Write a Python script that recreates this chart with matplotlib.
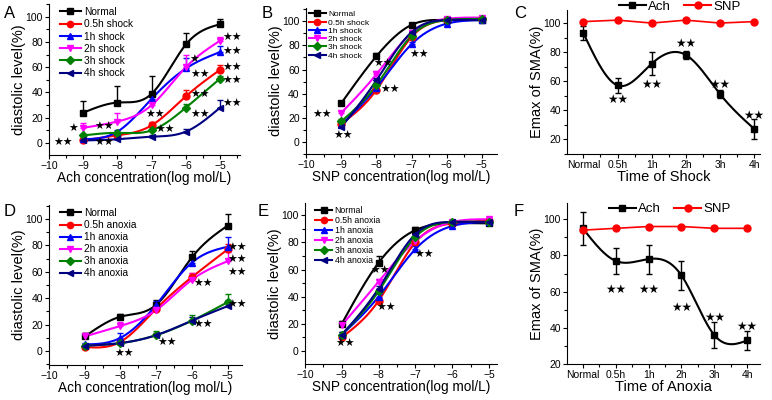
import numpy as np
import matplotlib
matplotlib.use("Agg")
import matplotlib.pyplot as plt
from matplotlib.ticker import MultipleLocator

plt.rcParams['font.family'] = ['Liberation Sans', 'DejaVu Sans']

# ---------------- data ----------------
conc = [-9, -8, -7, -6, -5]
shock_groups = ["Normal", "0.5h shock", "1h shock", "2h shock", "3h shock", "4h shock"]
anoxia_groups = ["Normal", "0.5h anoxia", "1h anoxia", "2h anoxia", "3h anoxia", "4h anoxia"]

A_vals = [[24, 32, 39, 78, 94],
          [2, 6, 14, 37, 58],
          [3, 9, 35, 59, 72],
          [12, 17, 30, 60, 81],
          [6, 8, 10, 28, 51],
          [2, 3, 5, 9, 28]]
A_err = [[9, 13, 14, 9, 4],
         [1, 1, 3, 5, 4],
         [1, 1, 2, 8, 5],
         [4, 7, 3, 10, 3],
         [1, 1, 1, 3, 2],
         [1, 1, 1, 2, 6]]

B_vals = [[32, 71, 97, 101, 101],
          [15, 43, 87, 101, 102],
          [14, 45, 81, 98, 101],
          [24, 56, 90, 102, 103],
          [17, 47, 88, 101, 102],
          [12, 51, 91, 101, 101]]
B_err = [[2, 3, 1, 1, 1],
         [2, 2, 2, 1, 1],
         [2, 2, 2, 1, 1],
         [2, 3, 2, 1, 1],
         [2, 2, 2, 1, 1],
         [2, 2, 2, 1, 1]]

D_vals = [[11, 26, 35, 71, 95],
          [3, 7, 32, 56, 77],
          [5, 10, 35, 67, 79],
          [11, 19, 31, 54, 68],
          [4, 6, 12, 23, 37],
          [4, 6, 12, 23, 34]]
D_err = [[3, 2, 4, 5, 9],
         [1, 1, 3, 3, 4],
         [1, 4, 3, 3, 7],
         [3, 3, 4, 5, 7],
         [1, 1, 3, 4, 6],
         [1, 1, 2, 3, 5]]

E_vals = [[20, 65, 89, 94, 94],
          [10, 37, 80, 94, 96],
          [12, 40, 75, 92, 95],
          [19, 51, 81, 95, 97],
          [12, 44, 84, 95, 95],
          [12, 46, 86, 95, 95]]
E_err = [[2, 5, 2, 1, 1],
         [2, 2, 2, 1, 1],
         [2, 2, 2, 1, 1],
         [2, 2, 2, 1, 1],
         [2, 2, 2, 1, 1],
         [2, 2, 2, 1, 1]]

times = ["Normal", "0.5h", "1h", "2h", "3h", "4h"]
C_ach = [93, 57, 72, 78, 51, 27]
C_ach_err = [5, 5, 8, 3, 3, 7]
C_snp = [101, 102, 100, 102, 100, 101]
F_ach = [95, 77, 78, 69, 36, 33]
F_ach_err = [9, 7, 8, 8, 7, 5]
F_snp = [94, 95, 96, 96, 95, 95]

# star annotations (x, y, text)
A_stars = [(-9.6, 0, "★★"), (-9.3, 11, "★"), (-8.4, 13, "★★"), (-8.4, 0, "★★"),
           (-6.9, 22, "★★"), (-6.6, 10, "★★"), (-5.75, 66, "★"), (-5.6, 54, "★★"),
           (-5.6, 38, "★★"), (-5.6, 22, "★★"), (-4.65, 83, "★★"), (-4.65, 72, "★★"),
           (-4.65, 59.5, "★★"), (-4.65, 49, "★★"), (-4.65, 31, "★★")]
B_stars = [(-9.55, 22, "★★"), (-8.95, 5, "★★"), (-7.8, 65, "★★"), (-7.6, 43, "★★"),
           (-6.8, 72, "★★")]
D_stars = [(-7.9, -2, "★★"), (-6.7, 6, "★★"), (-5.7, 51, "★★"), (-5.7, 20, "★★"),
           (-4.75, 78, "★★"), (-4.75, 69, "★★"), (-4.75, 59, "★★"), (-4.75, 35, "★★")]
E_stars = [(-8.9, 5, "★★"), (-7.95, 59, "★★"), (-7.8, 32, "★★"), (-6.75, 71, "★★")]
C_stars = [(1, 47, "★★"), (2, 58, "★★"), (3, 86, "★★"), (4, 58, "★★"), (5, 36, "★★")]
F_stars = [(1, 61, "★★"), (2, 61, "★★"), (3, 51, "★★"), (4, 46, "★★"), (5, 41, "★★")]

colors = ["black", "#ff0000", "#0000ff", "#ff00ff", "#008000", "#000080"]
markers = ["s", "o", "^", "v", "D", "<"]
msizes = [5, 5, 5, 5, 4.5, 5]


def spline(x, y, n=200):
    x = np.asarray(x, float)
    y = np.asarray(y, float)
    m = len(x)
    h = np.diff(x)
    A = np.zeros((m, m))
    r = np.zeros(m)
    A[0, 0] = 1
    A[-1, -1] = 1
    for i in range(1, m - 1):
        A[i, i - 1] = h[i - 1]
        A[i, i] = 2 * (h[i - 1] + h[i])
        A[i, i + 1] = h[i]
        r[i] = 3 * ((y[i + 1] - y[i]) / h[i] - (y[i] - y[i - 1]) / h[i - 1])
    c = np.linalg.solve(A, r)
    xs = np.linspace(x[0], x[-1], n)
    ys = np.empty_like(xs)
    for k, xv in enumerate(xs):
        i = min(np.searchsorted(x, xv, side='right') - 1, m - 2)
        b = (y[i + 1] - y[i]) / h[i] - h[i] * (2 * c[i] + c[i + 1]) / 3
        d = (c[i + 1] - c[i]) / (3 * h[i])
        t = xv - x[i]
        ys[k] = y[i] + b * t + c[i] * t ** 2 + d * t ** 3
    return xs, ys


def style(ax):
    for s in ["top", "right"]:
        ax.spines[s].set_visible(False)
    ax.tick_params(direction='out', labelsize=7.5, length=3, width=0.8, pad=1.5)
    ax.tick_params(which='minor', direction='out', length=2, width=0.8)


fig = plt.figure(figsize=(7.72, 4.0), dpi=100)
W, H = 772, 400


def make_ax(l, r, b, t):
    return fig.add_axes([l / W, 1 - b / H, (r - l) / W, (b - t) / H])


STAR_FS = 7.8


def conc_panel(ax, vals, errs, labels, stars, ylim, xr, xlabel):
    for i in range(6):
        xs, ys = spline(conc, vals[i])
        ax.plot(xs, ys, color=colors[i], lw=1.5, zorder=2)
        ax.errorbar(conc, vals[i], yerr=[[0] * 5, errs[i]], fmt='none', ecolor=colors[i],
                    elinewidth=1, capsize=2, zorder=2)
        ax.plot(conc, vals[i], linestyle='none', marker=markers[i], color=colors[i],
                ms=msizes[i], zorder=3)
    for (x, y, s) in stars:
        ax.text(x, y, s, fontsize=STAR_FS, ha='center', va='center', family='DejaVu Sans')
    ax.set_xlim(-10, xr)
    ax.set_ylim(*ylim)
    ax.set_xticks([-10, -9, -8, -7, -6, -5])
    ax.xaxis.set_minor_locator(MultipleLocator(0.5))
    ax.set_yticks([0, 20, 40, 60, 80, 100])
    ax.yaxis.set_minor_locator(MultipleLocator(10))
    ax.set_xlabel(xlabel, fontsize=9.8, labelpad=0)
    ax.set_ylabel("diastolic level(%)", fontsize=10.5, labelpad=-0.5)
    style(ax)


def time_panel(ax, ach, ach_err, snp, stars, ylim, xr, xlabel):
    x = np.arange(len(times))
    xs, ys = spline(x, ach)
    ax.plot(xs, ys, color='black', lw=1.5, zorder=2)
    ax.errorbar(x, ach, yerr=ach_err, fmt='none', ecolor='black', elinewidth=1, capsize=2)
    ax.plot(x, ach, 's', color='black', ms=5, zorder=3)
    ax.plot(x, snp, '-o', color='#ff0000', ms=5, lw=1.2, zorder=3)
    for (xx, y, s) in stars:
        ax.text(xx, y, s, fontsize=STAR_FS + 0.7, ha='center', va='center', family='DejaVu Sans')
    ax.set_xlim(-0.48, xr)
    ax.set_ylim(*ylim)
    ax.set_xticks(x)
    ax.set_xticklabels(times)
    ax.xaxis.set_minor_locator(MultipleLocator(0.5))
    ax.set_yticks([20, 40, 60, 80, 100])
    ax.yaxis.set_minor_locator(MultipleLocator(10))
    ax.set_xlabel(xlabel, fontsize=10.5, labelpad=0)
    ax.set_ylabel("Emax of SMA(%)", fontsize=10.5, labelpad=-0.5)
    style(ax)


def legend6(ax, labels, fs, x0, hl, ls):
    handles = []
    for i in range(6):
        h, = ax.plot([], [], color=colors[i], marker=markers[i], ms=msizes[i] * 0.9, lw=1.5)
        handles.append(h)
    ax.legend(handles, labels, loc='upper left', bbox_to_anchor=(x0, 1.0), frameon=False,
              fontsize=fs, handlelength=hl, handletextpad=0.3, labelspacing=ls,
              borderpad=0.2, borderaxespad=0.1)


def legend2(fig_x, fig_y):
    h1, = plt.plot([], [], '-s', color='black', ms=5, lw=1.5)
    h2, = plt.plot([], [], '-o', color='#ff0000', ms=5, lw=1.5)
    fig.legend([h1, h2], ["Ach", "SNP"], loc='center', bbox_to_anchor=(fig_x / W, 1 - fig_y / H),
               ncol=2, frameon=False, fontsize=9.5, handlelength=2.0, handletextpad=0.2,
               columnspacing=1.0, borderpad=0)


axA = make_ax(49, 240, 155, 4)
conc_panel(axA, A_vals, A_err, shock_groups, A_stars, (-9.5, 110), -4.42, "Ach concentration(log mol/L)")
legend6(axA, shock_groups, 7.3, 0.04, 2.1, 0.22)

axB = make_ax(306, 497, 154, 8)
conc_panel(axB, B_vals, B_err, shock_groups, B_stars, (-10, 111), -4.57, "SNP concentration(log mol/L)")
legend6(axB, shock_groups, 6.0, 0.0, 2.1, 0.05)

axC = make_ax(567, 760, 154, 10)
time_panel(axC, C_ach, C_ach_err, C_snp, C_stars, (9.7, 109), 5.17, "Time of Shock")
legend2(680, 7)

axD = make_ax(49, 242, 365, 205)
conc_panel(axD, D_vals, D_err, anoxia_groups, D_stars, (-10.6, 110.6), -4.6, "Ach concentration(log mol/L)")
legend6(axD, anoxia_groups, 7.3, 0.04, 2.1, 0.2)

axE = make_ax(305, 497, 364, 203)
conc_panel(axE, E_vals, E_err, anoxia_groups, E_stars, (-9.6, 109), -4.78, "SNP concentration(log mol/L)")
legend6(axE, anoxia_groups, 6.3, 0.04, 1.9, 0.12)

axF = make_ax(567, 760, 364, 203)
time_panel(axF, F_ach, F_ach_err, F_snp, F_stars, (20, 109), 5.39, "Time of Anoxia")
legend2(670, 209)

for lab, x, y in [("A", 4, 14), ("B", 262, 14), ("C", 514, 14),
                  ("D", 4, 212), ("E", 258, 212), ("F", 514, 212)]:
    fig.text(x / W, 1 - y / H, lab, fontsize=12, ha='left', va='center')

fig.savefig("out.png", dpi=100)
